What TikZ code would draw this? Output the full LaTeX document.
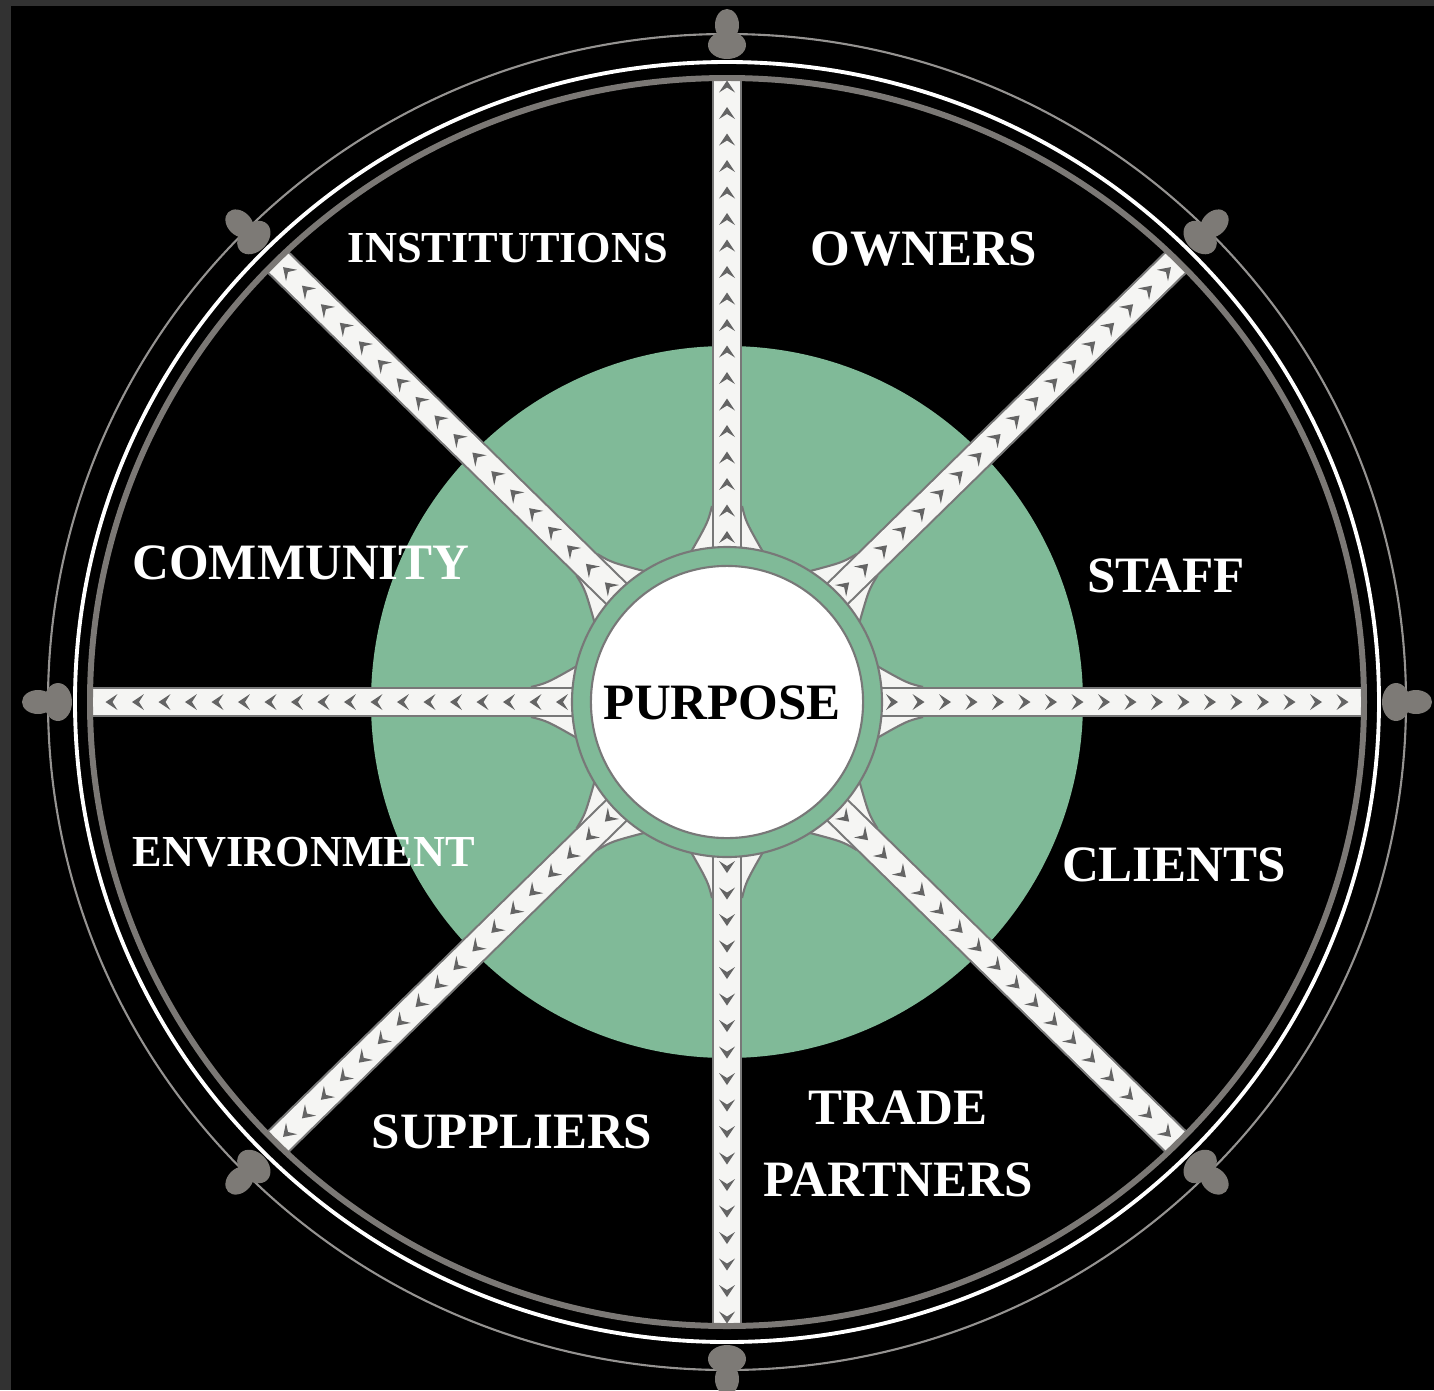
\documentclass[tikz,border=0pt]{standalone}
\usepackage{fontspec}
\setmainfont{Liberation Serif}
\definecolor{wheelgreen}{RGB}{128,186,152}
\definecolor{rimgray}{RGB}{123,120,117}
\definecolor{edgegray}{RGB}{120,120,120}
\definecolor{chevgray}{RGB}{100,100,100}
\definecolor{knobgray}{RGB}{125,122,118}
\definecolor{framegray}{RGB}{50,50,50}
\definecolor{spokewhite}{RGB}{245,245,243}
\tikzset{
  spoke/.style={draw=edgegray, line width=0.6pt, double=spokewhite, double distance=7.6pt},
  stake/.style={text=white, inner sep=0pt, font=\fontsize{14.5}{20.5}\selectfont\bfseries},
  stakesmall/.style={stake, font=\fontsize{12.6}{15}\selectfont\bfseries},
}
\begin{document}
\begin{tikzpicture}[x=0.01cm,y=0.01cm]
\clip (-727,-688) rectangle (707,702);
\fill[black] (-727,-688) rectangle (707,702);
\fill[framegray] (-727,-688) rectangle (-716,702);
\fill[framegray] (-727,696) rectangle (707,702);

% outer rims
\draw[rimgray!80, line width=0.6pt] (0,0) ellipse [x radius=679, y radius=668];
\draw[white, line width=1.1pt] (0,0) ellipse [x radius=652, y radius=640];

% green disc
\fill[wheelgreen] (0,0) circle [radius=356];

% spokes with their flares and chevrons
\foreach \a in {0,45,...,315}{
  \pgfmathsetmacro\ang{atan2(624*sin(\a),637*cos(\a))}
  \coordinate (hub\a) at (\ang:150);
  \coordinate (rim\a) at ({637*cos(\a)},{624*sin(\a)});
  \begin{scope}[rotate=\ang]
    \fill[spokewhite] (196,15) .. controls (180,19) .. (150,36)
      -- (150,-36) .. controls (180,-19) .. (196,-15) -- cycle;
    \draw[edgegray, line width=0.6pt] (196,15) .. controls (180,19) .. (150,36)
      (150,-36) .. controls (180,-19) .. (196,-15);
  \end{scope}
  \draw[spoke] (hub\a) -- (rim\a);
  \foreach \i in {0,...,17}
    \fill[chevgray, rotate=\ang] (165+26.5*\i+6,0) -- (165+26.5*\i-6,8)
      -- (165+26.5*\i-1,0) -- (165+26.5*\i-6,-8) -- cycle;
}

% hub
\draw[edgegray, fill=wheelgreen, line width=0.6pt] (0,0) circle [radius=155];
\node[circle, draw=edgegray, fill=white, line width=0.6pt, minimum size=2.72cm, inner sep=0pt]
  (purpose) at (0,0) {};
\node[stake, text=black] (purposetext) at (-5,-1) {PURPOSE};

% rim over the spoke ends
\draw[rimgray, line width=1.7pt] (0,0) ellipse [x radius=637, y radius=624];

% knobs
\foreach \a in {0,45,...,315}{
  \pgfmathsetmacro\ang{atan2(640*sin(\a),652*cos(\a))}
  \begin{scope}[shift={({652*cos(\a)},{640*sin(\a)})}, rotate=\ang]
    \fill[knobgray] (17,0) ellipse [x radius=14, y radius=19];
    \fill[knobgray] (37,0) ellipse [x radius=16, y radius=12];
  \end{scope}
}

% stakeholders
\node[stakesmall] (institutions) at (-219,454) {INSTITUTIONS};
\node[stake] (owners) at (197,453) {OWNERS};
\node[stake] (community) at (-426,139) {COMMUNITY};
\node[stake] (staff) at (439,126) {STAFF};
\node[stakesmall] (environment) at (-423,-150) {ENVIRONMENT};
\node[stake] (clients) at (447,-163) {CLIENTS};
\node[stake] (suppliers) at (-215,-430) {SUPPLIERS};
\node[stake, align=center] (partners) at (171,-442) {TRADE\\PARTNERS};
\end{tikzpicture}
\end{document}
